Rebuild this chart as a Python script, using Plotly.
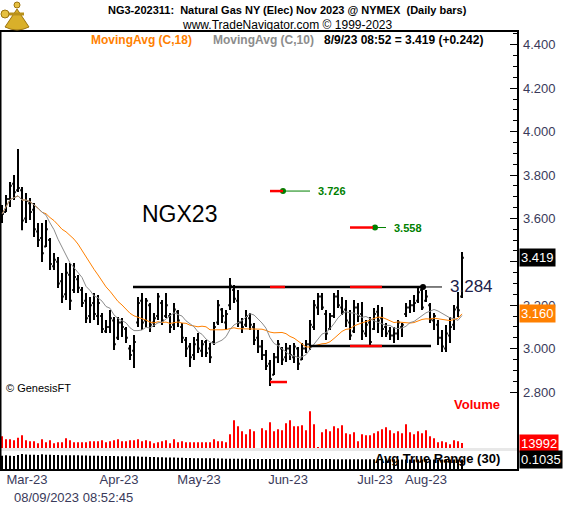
import pandas as pd
import plotly.graph_objects as go

# daily bars, NG Nov 2023
opens = [3.60, 3.63, 3.69, 3.76, 3.73, 3.73, 3.60, 3.67, 3.64, 3.54,
         3.51, 3.47, 3.50, 3.38, 3.40, 3.31, 3.25, 3.34, 3.27, 3.32,
         3.27, 3.22, 3.15, 3.21, 3.15, 3.15, 3.08, 3.10, 3.13, 3.05,
         3.12, 3.09, 3.00, 2.99, 3.12, 3.22, 3.13, 3.20, 3.12, 3.15,
         3.21, 3.15, 3.15, 3.11, 3.17, 3.10, 3.04, 3.01, 2.97, 3.04,
         2.99, 3.03, 3.00, 3.03, 3.12, 3.18, 3.12, 3.20, 3.27, 3.22,
         3.12, 3.11, 3.14, 3.10, 3.05, 3.01, 2.97, 2.93, 2.88, 2.96,
         3.00, 2.96, 3.00, 2.96, 3.00, 2.95, 3.00, 3.02, 3.10, 3.19,
         3.24, 3.16, 3.09, 3.15, 3.24, 3.19, 3.18, 3.12, 3.08, 3.19,
         3.16, 3.07, 3.12, 3.09, 3.17, 3.14, 3.10, 3.08, 3.06, 3.07,
         3.10, 3.16, 3.19, 3.20, 3.22, 3.27, 3.22, 3.20, 3.13, 3.11,
         3.05, 3.00, 3.06, 3.11, 3.19, 3.24]
highs = [3.662, 3.708, 3.768, 3.800, 3.920, 3.745, 3.717, 3.694, 3.671, 3.579,
         3.579, 3.593, 3.510, 3.441, 3.422, 3.348, 3.394, 3.394, 3.394, 3.339,
         3.284, 3.256, 3.238, 3.256, 3.247, 3.164, 3.132, 3.178, 3.146, 3.146,
         3.141, 3.100, 3.017, 3.063, 3.238, 3.256, 3.233, 3.210, 3.164, 3.256,
         3.224, 3.256, 3.164, 3.210, 3.178, 3.118, 3.053, 3.026, 3.053, 3.072,
         3.040, 3.040, 3.026, 3.123, 3.224, 3.187, 3.178, 3.325, 3.293, 3.270,
         3.141, 3.178, 3.164, 3.118, 3.086, 3.040, 2.994, 2.947, 2.980, 3.040,
         3.007, 3.026, 3.017, 3.026, 3.007, 3.026, 3.040, 3.132, 3.224, 3.256,
         3.256, 3.178, 3.164, 3.256, 3.270, 3.238, 3.224, 3.178, 3.224, 3.210,
         3.215, 3.132, 3.146, 3.187, 3.201, 3.192, 3.118, 3.100, 3.100, 3.132,
         3.118, 3.210, 3.224, 3.247, 3.279, 3.284, 3.270, 3.210, 3.164, 3.132,
         3.086, 3.109, 3.146, 3.201, 3.261, 3.445]
lows = [3.579, 3.629, 3.652, 3.685, 3.722, 3.546, 3.579, 3.593, 3.514, 3.468,
        3.399, 3.468, 3.362, 3.362, 3.279, 3.210, 3.224, 3.178, 3.256, 3.256,
        3.192, 3.118, 3.118, 3.132, 3.109, 3.072, 3.072, 3.072, 2.994, 3.040,
        3.053, 3.026, 2.947, 2.911, 3.100, 3.086, 3.100, 3.076, 3.100, 3.132,
        3.109, 3.141, 3.072, 3.086, 3.100, 3.026, 2.961, 2.915, 2.947, 2.980,
        2.961, 2.961, 2.934, 3.017, 3.109, 3.118, 3.086, 3.178, 3.210, 3.100,
        3.072, 3.100, 3.086, 3.017, 2.980, 2.947, 2.901, 2.828, 2.878, 2.934,
        2.924, 2.938, 2.947, 2.934, 2.901, 2.947, 2.980, 2.994, 3.086, 3.155,
        3.178, 3.040, 3.086, 3.141, 3.187, 3.155, 3.100, 3.040, 3.072, 3.123,
        3.040, 3.053, 3.007, 3.086, 3.072, 3.053, 3.053, 3.040, 3.026, 3.040,
        3.053, 3.146, 3.164, 3.169, 3.210, 3.178, 3.215, 3.118, 3.086, 3.017,
        2.984, 2.984, 3.026, 3.086, 3.146, 3.233]
closes = [3.62, 3.69, 3.75, 3.72, 3.74, 3.59, 3.68, 3.63, 3.55, 3.50,
          3.44, 3.55, 3.39, 3.41, 3.30, 3.24, 3.35, 3.22, 3.33, 3.28,
          3.21, 3.14, 3.20, 3.16, 3.21, 3.09, 3.10, 3.14, 3.02, 3.12,
          3.10, 3.05, 2.97, 3.03, 3.21, 3.12, 3.22, 3.11, 3.14, 3.24,
          3.13, 3.20, 3.10, 3.18, 3.13, 3.05, 3.00, 2.96, 3.02, 3.00,
          3.02, 2.98, 2.96, 3.10, 3.20, 3.15, 3.16, 3.29, 3.23, 3.12,
          3.10, 3.15, 3.11, 3.04, 3.01, 2.97, 2.92, 2.86, 2.96, 3.02,
          2.95, 3.00, 2.97, 3.01, 2.93, 3.00, 3.02, 3.11, 3.20, 3.24,
          3.19, 3.07, 3.15, 3.24, 3.20, 3.17, 3.13, 3.06, 3.19, 3.15,
          3.08, 3.11, 3.03, 3.16, 3.13, 3.09, 3.07, 3.06, 3.07, 3.12,
          3.11, 3.19, 3.20, 3.21, 3.26, 3.19, 3.24, 3.134, 3.15, 3.05,
          3.01, 3.07, 3.10, 3.18, 3.177, 3.419]
volumes = [32800, 24400, 24400, 21600, 28800, 35600, 21600, 18800, 18800, 13200,
           24400, 16000, 21600, 13200, 16000, 16000, 27200, 21600, 16000, 16000,
           16000, 16000, 18800, 18800, 18800, 21600, 16000, 18800, 21600, 24400,
           18800, 18800, 21600, 21600, 24400, 18800, 21600, 18800, 13200, 16000,
           18800, 21600, 13200, 24400, 16000, 18800, 16000, 16000, 16000, 16000,
           16000, 16000, 16000, 24400, 18800, 18800, 16000, 38400, 77600, 60800,
           46800, 38400, 52400, 46800, 0, 55200, 49600, 72000, 46800, 52400,
           49600, 69200, 77600, 60800, 60800, 63600, 49600, 102800, 66400, 2800,
           44000, 52400, 46800, 60800, 55200, 63600, 41200, 38400, 44000, 18800,
           38400, 35600, 35600, 41200, 46800, 52400, 58000, 49600, 41200, 46800,
           41200, 66400, 44000, 38400, 46800, 41200, 49600, 32800, 27200, 16000,
           18800, 16000, 10400, 21600, 18800, 13992]
atr = [0.121, 0.124, 0.121, 0.120, 0.125, 0.129, 0.127, 0.126, 0.126, 0.125,
       0.128, 0.126, 0.126, 0.125, 0.125, 0.124, 0.124, 0.124, 0.123, 0.123,
       0.122, 0.122, 0.121, 0.121, 0.121, 0.120, 0.120, 0.120, 0.120, 0.119,
       0.119, 0.119, 0.119, 0.119, 0.118, 0.117, 0.116, 0.115, 0.115, 0.114,
       0.114, 0.113, 0.113, 0.113, 0.112, 0.112, 0.111, 0.111, 0.110, 0.110,
       0.110, 0.109, 0.109, 0.109, 0.108, 0.108, 0.107, 0.107, 0.107, 0.107,
       0.107, 0.107, 0.106, 0.106, 0.106, 0.106, 0.106, 0.106, 0.106, 0.106,
       0.106, 0.106, 0.106, 0.106, 0.106, 0.106, 0.106, 0.106, 0.106, 0.106,
       0.106, 0.106, 0.106, 0.105, 0.105, 0.105, 0.105, 0.105, 0.105, 0.105,
       0.105, 0.105, 0.105, 0.105, 0.105, 0.105, 0.105, 0.105, 0.105, 0.104,
       0.104, 0.104, 0.104, 0.104, 0.104, 0.104, 0.104, 0.104, 0.104, 0.104,
       0.104, 0.104, 0.104, 0.104, 0.104, 0.1035]

month_ticks = [6.25, 29.25, 49.25, 71.5, 93.25, 106]
month_labels = ["Mar-23", "Apr-23", "May-23", "Jun-23", "Jul-23", "Aug-23"]
price_ticks = [2.8, 3.0, 3.2, 3.4, 3.6, 3.8, 4.0, 4.2, 4.4]

resistance = 3.284
support = 3.012
swing_low = 2.846
targets = [3.726, 3.558]

W, H = 573, 505
AXIS_COL = "#3a3a5a"
FONT = "Liberation Sans, Arial, sans-serif"


def fx(x):
    return x / W


def fy(y):
    return 1 - y / H


idx = list(range(len(closes)))
cs = pd.Series(closes)
ma18 = cs.rolling(18, min_periods=1).mean()
ma10 = cs.rolling(10, min_periods=1).mean()
change = closes[-1] - closes[-2]

fig = go.Figure()

bar_line = dict(line=dict(color="black", width=2))
fig.add_trace(go.Ohlc(
    x=idx, open=opens, high=highs, low=lows, close=closes,
    increasing=bar_line, decreasing=bar_line,
    tickwidth=0.45, hoverinfo="skip", showlegend=False,
))
fig.add_trace(go.Scatter(x=idx, y=ma18, mode="lines",
                         line=dict(color="#ff8000", width=1), showlegend=False))
fig.add_trace(go.Scatter(x=idx, y=ma10, mode="lines",
                         line=dict(color="#8c8c8c", width=1), showlegend=False))

# volume pane
fig.add_trace(go.Bar(x=idx, y=volumes, width=0.27, marker_color="#ff0000",
                     marker_line_width=0, yaxis="y2", showlegend=False))
# ATR pane
fig.add_trace(go.Bar(x=idx, y=atr, width=0.27, marker_color="black",
                     marker_line_width=0, yaxis="y3", showlegend=False))

# trendline markers
fig.add_trace(go.Scatter(x=[70.25, 93.25], y=targets, mode="markers",
                         marker=dict(color="#008000", size=6), showlegend=False))
fig.add_trace(go.Scatter(x=[105.25], y=[resistance], mode="markers",
                         marker=dict(color="black", size=6), showlegend=False))


def seg(x0, x1, y, color, width):
    return dict(type="line", xref="x", yref="y", x0=x0, x1=x1, y0=y, y1=y,
                line=dict(color=color, width=width))


shapes = [
    seg(32.75, 105.25, resistance, "black", 2.5),
    seg(105.25, 110, resistance, "black", 1),
    seg(67, 70.75, resistance, "#ff0000", 2.5),
    seg(87, 95, resistance, "#ff0000", 2.5),
    seg(77, 107.25, support, "black", 2.5),
    seg(87, 95, support, "#ff0000", 2.5),
    seg(67, 71.25, swing_low, "#ff0000", 2.5),
    seg(67, 70.25, targets[0], "#ff0000", 2.5),
    seg(70.25, 77, targets[0], "#008000", 1),
    seg(87, 92.75, targets[1], "#ff0000", 2.5),
    seg(93.25, 96, targets[1], "#008000", 1),
    # pane separator and frame
    dict(type="rect", xref="paper", yref="paper", x0=0, x1=fx(518),
         y0=fy(451), y1=fy(448), fillcolor="#e8e8e8", line_width=0),
    dict(type="rect", xref="paper", yref="paper", x0=fx(0.5), x1=fx(518),
         y0=fy(470), y1=fy(31), line=dict(color="black", width=2)),
    # logo
    dict(type="path", xref="paper", yref="paper",
         path=f"M {fx(5)},{fy(27)} Q {fx(17)},{fy(33)} {fx(29)},{fy(27)} "
              f"L {fx(17)},{fy(9)} Z",
         fillcolor="#d9b02a", line=dict(color="#9c7410", width=1)),
    dict(type="line", xref="paper", yref="paper", x0=fx(4), x1=fx(24),
         y0=fy(14), y1=fy(14), line=dict(color="#b8901a", width=3)),
    dict(type="circle", xref="paper", yref="paper", x0=fx(1), x1=fx(9),
         y0=fy(18), y1=fy(10), fillcolor="#e6c040", line=dict(color="#9c7410", width=1)),
    dict(type="circle", xref="paper", yref="paper", x0=fx(14), x1=fx(20),
         y0=fy(8), y1=fy(2), fillcolor="#e6c040", line=dict(color="#9c7410", width=1)),
]


def note(text, x, y, size=12, color="black", bold=False, anchor="left", **kw):
    t = f"<b>{text}</b>" if bold else text
    return dict(text=t, x=fx(x), y=fy(y), xref="paper", yref="paper",
                xanchor=anchor, yanchor="middle", showarrow=False,
                font=dict(family=FONT, size=size, color=color), **kw)


def box(text, y, yref, bg):
    return dict(text=text, x=fx(519), y=y, xref="paper", yref=yref,
                xanchor="left", yanchor="middle", showarrow=False,
                bgcolor=bg, borderpad=1,
                font=dict(family=FONT, size=13, color="white"))


annotations = [
    note("NG3-202311:  Natural Gas NY (Elec) Nov 2023 @ NYMEX  (Daily bars)",
         287, 10, size=11, bold=True, anchor="center"),
    note("www.TradeNavigator.com © 1999-2023", 287, 25, size=12, anchor="center"),
    note("MovingAvg (C,18)", 89, 40, size=12, color="#ff8000", bold=True),
    note("MovingAvg (C,10)", 211, 40, size=12, color="#8c8c8c", bold=True),
    note(f"8/9/23 08:52 = {closes[-1]:.3f} ({change:+.3f})", 322, 40, size=12, bold=True),
    note("NGX23", 140, 214, size=23),
    note("© GenesisFT", 4, 388, size=11),
    note("Volume", 452, 404, size=13, color="#ff0000", bold=True),
    note("Avg True Range (30)", 373, 458, size=13, bold=True),
    note("08/09/2023 08:52:45", 12, 497, size=13, color=AXIS_COL),
    dict(text=f"{resistance:.3f}", x=111.5, y=resistance, xref="x", yref="y",
         xanchor="left", yanchor="middle", showarrow=False,
         font=dict(family=FONT, size=17, color="#202048")),
    dict(text=f"<b>{targets[0]:.3f}</b>", x=78.5, y=targets[0], xref="x", yref="y",
         xanchor="left", yanchor="middle", showarrow=False,
         font=dict(family=FONT, size=11, color="#008000")),
    dict(text=f"<b>{targets[1]:.3f}</b>", x=97.5, y=targets[1], xref="x", yref="y",
         xanchor="left", yanchor="middle", showarrow=False,
         font=dict(family=FONT, size=11, color="#008000")),
    box(f"{closes[-1]:.3f}", closes[-1], "y", "black"),
    box(f"{ma18.iloc[-1]:.3f}", ma18.iloc[-1], "y", "#ff8000"),
    box(f"{volumes[-1]}", volumes[-1], "y2", "#ff0000"),
    box(f"{atr[-1]:.4f}", atr[-1], "y3", "black"),
]

fig.update_layout(
    width=W, height=H,
    margin=dict(l=0, r=0, t=0, b=0),
    paper_bgcolor="white", plot_bgcolor="white",
    barmode="overlay", showlegend=False,
    font=dict(family=FONT, color=AXIS_COL),
    xaxis=dict(domain=[0, fx(518)], range=[-0.5, 129], anchor="y3",
               tickmode="array", tickvals=month_ticks, ticktext=month_labels,
               tickfont=dict(size=13, color=AXIS_COL), ticks="",
               showgrid=False, zeroline=False, showline=False,
               rangeslider=dict(visible=False)),
    yaxis=dict(domain=[fy(448), fy(31)], range=[2.542, 4.4636], side="right",
               anchor="x", tickmode="array", tickvals=price_ticks,
               tickformat=".3f", tickfont=dict(size=13, color=AXIS_COL),
               ticks="inside", ticklen=8, tickcolor="black", tickwidth=1,
               ticklabelstandoff=4,
               minor=dict(tickmode="linear", tick0=2.8, dtick=0.05,
                          ticks="inside", ticklen=5, tickcolor="black"),
               showgrid=False, zeroline=False, showline=False),
    yaxis2=dict(domain=[fy(448), fy(400)], range=[0, 48 * 2800], anchor="x",
                visible=False),
    yaxis3=dict(domain=[fy(470), fy(451)], range=[0.054, 0.1436], anchor="x",
                visible=False),
    shapes=shapes,
    annotations=annotations,
)

# the page body has a default 8px margin; drop it so the figure sits at 0,0
fig.write_html("out.html", config={"displayModeBar": False},
               post_script="document.body.style.margin='0';")
